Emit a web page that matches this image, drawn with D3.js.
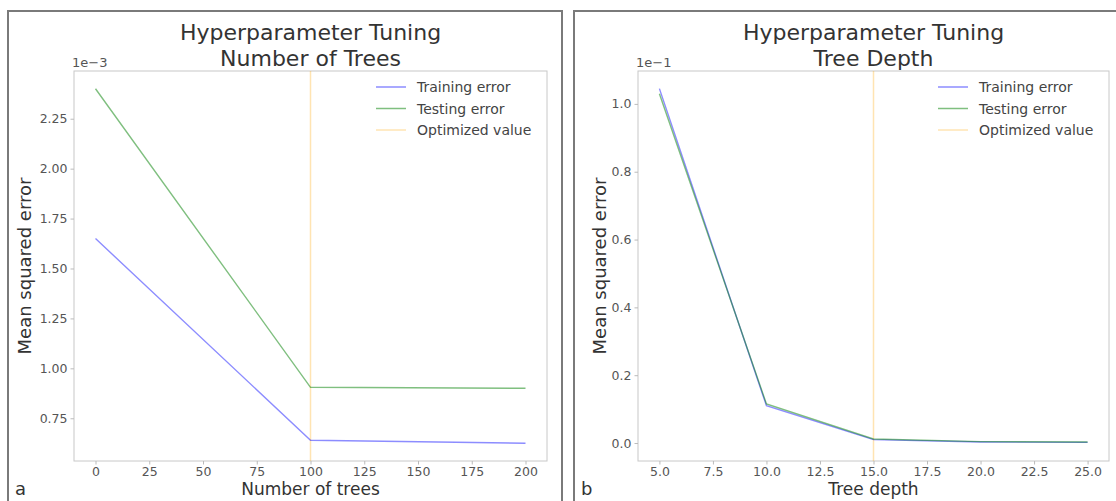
<!DOCTYPE html>
<html><head><meta charset="utf-8">
<script src="https://cdn.jsdelivr.net/npm/d3@7"></script>
<style>body{margin:0;background:#fff}svg{display:block}text{font-family:"DejaVu Sans",sans-serif}</style>
</head><body>
<svg id="chart" width="1116" height="501"></svg>
<script>
// ---- data ----
const treesX = [0, 100, 200];
const treesTrain = [0.00165, 0.00064, 0.000625];
const treesTest = [0.00240, 0.000905, 0.00090];
const treesTicksX = [0, 25, 50, 75, 100, 125, 150, 175, 200];
const treesTicksY = [0.00075, 0.00100, 0.00125, 0.00150, 0.00175, 0.00200, 0.00225];
const optTrees = 100;

const depthX = [5, 10, 15, 20, 25];
const depthTrain = [0.1045, 0.0110, 0.0010, 0.0003, 0.0002];
const depthTest = [0.1030, 0.0115, 0.0012, 0.0004, 0.0003];
const depthTicksX = [5, 7.5, 10, 12.5, 15, 17.5, 20, 22.5, 25];
const depthTicksY = [0, 0.02, 0.04, 0.06, 0.08, 0.10];
const optDepth = 15;

const legendLabels = ["Training error", "Testing error", "Optimized value"];
const colTrain = "rgba(0,0,255,0.45)", colTest = "rgba(0,128,0,0.5)", colOpt = "rgba(255,165,0,0.3)";
const colors = [colTrain, colTest, colOpt];

const svg = d3.select("#chart");

function panel(cfg) {
  const g = svg.append("g");
  g.append("rect").attr("x", cfg.frame[0]).attr("y", cfg.frame[1])
    .attr("width", cfg.frame[2]).attr("height", cfg.frame[3])
    .attr("fill", "none").attr("stroke", "#7a7a7a").attr("stroke-width", 2);

  const x = d3.scaleLinear().domain(cfg.xDom).range([cfg.left, cfg.right]);
  const y = d3.scaleLinear().domain(cfg.yDom).range([cfg.bottom, cfg.top]);

  g.append("rect").attr("x", cfg.left).attr("y", cfg.top)
    .attr("width", cfg.right - cfg.left).attr("height", cfg.bottom - cfg.top)
    .attr("fill", "none").attr("stroke", "#c8c8c8").attr("stroke-width", 1);

  const xa = g.append("g").attr("transform", `translate(0,${cfg.bottom})`)
    .call(d3.axisBottom(x).tickValues(cfg.xTicks).tickFormat(cfg.xFmt).tickSize(3.5).tickPadding(3));
  const ya = g.append("g").attr("transform", `translate(${cfg.left},0)`)
    .call(d3.axisLeft(y).tickValues(cfg.yTicks).tickFormat(cfg.yFmt).tickSize(3.5).tickPadding(3));
  [xa, ya].forEach(a => {
    a.select(".domain").remove();
    a.selectAll(".tick line").attr("stroke", "#bbb");
    a.selectAll(".tick text").attr("fill", "#555").style("font-size", "12.5px");
  });

  g.append("line").attr("x1", x(cfg.opt)).attr("x2", x(cfg.opt))
    .attr("y1", cfg.top).attr("y2", cfg.bottom)
    .attr("stroke", colOpt).attr("stroke-width", 1.5);

  const line = d3.line().x(d => x(d[0])).y(d => y(d[1]));
  [[cfg.train, colTrain], [cfg.test, colTest]].forEach(([vals, c]) => {
    g.append("path").datum(cfg.xs.map((v, i) => [v, vals[i]]))
      .attr("d", line).attr("fill", "none").attr("stroke", c).attr("stroke-width", 1.4);
  });

  g.append("text").attr("x", cfg.left - 2).attr("y", cfg.top - 4)
    .attr("fill", "#555").style("font-size", "13px").text(cfg.offset);

  const cx = (cfg.left + cfg.right) / 2;
  g.append("text").attr("x", cx).attr("y", 40).attr("text-anchor", "middle")
    .attr("fill", "#333").style("font-size", "22px").text("Hyperparameter Tuning");
  g.append("text").attr("x", cx).attr("y", 66).attr("text-anchor", "middle")
    .attr("fill", "#333").style("font-size", "22px").text(cfg.title2);

  g.append("text").attr("x", cx).attr("y", 495).attr("text-anchor", "middle")
    .attr("fill", "#333").style("font-size", "17px").text(cfg.xLabel);
  g.append("text").attr("transform", `translate(${cfg.yLabelX},${(cfg.top + cfg.bottom) / 2}) rotate(-90)`)
    .attr("text-anchor", "middle").attr("fill", "#333").style("font-size", "18px").text("Mean squared error");
  g.append("text").attr("x", cfg.frame[0] + 7).attr("y", 495)
    .attr("fill", "#333").style("font-size", "18px").text(cfg.tag);

  const lx = cfg.right - 171;
  legendLabels.forEach((lab, i) => {
    const yy = 87 + i * 21.5;
    g.append("line").attr("x1", lx).attr("x2", lx + 30).attr("y1", yy).attr("y2", yy)
      .attr("stroke", colors[i]).attr("stroke-width", 1.5);
    g.append("text").attr("x", lx + 41).attr("y", yy + 5)
      .attr("fill", "#444").style("font-size", "14px").text(lab);
  });
}

panel({
  frame: [8, 11, 554, 500], left: 74, right: 547, top: 71, bottom: 461,
  xDom: [-10, 210], yDom: [0.000536, 0.002489],
  xs: treesX, train: treesTrain, test: treesTest, opt: optTrees,
  xTicks: treesTicksX, yTicks: treesTicksY,
  xFmt: d3.format("d"), yFmt: d => (d * 1000).toFixed(2),
  offset: "1e\u22123", title2: "Number of Trees", xLabel: "Number of trees",
  yLabelX: 31, tag: "a"
});
panel({
  frame: [574, 11, 560, 500], left: 638, right: 1109, top: 71, bottom: 461,
  xDom: [4, 26], yDom: [-0.0053, 0.1097],
  xs: depthX, train: depthTrain, test: depthTest, opt: optDepth,
  xTicks: depthTicksX, yTicks: depthTicksY,
  xFmt: d3.format(".1f"), yFmt: d => (d * 10).toFixed(1),
  offset: "1e\u22121", title2: "Tree Depth", xLabel: "Tree depth",
  yLabelX: 606, tag: "b"
});
</script>
</body></html>
